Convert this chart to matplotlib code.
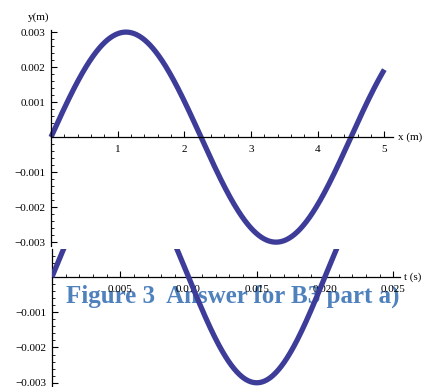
import numpy as np
import matplotlib
matplotlib.use('Agg')
import matplotlib.pyplot as plt
from matplotlib.ticker import MultipleLocator, FuncFormatter

# wave parameters
amplitude = 0.003      # m
wavelength = 4.5       # m
period = 0.020         # s

x_ticks = [1, 2, 3, 4, 5]
y_ticks = [-0.003, -0.002, -0.001, 0.001, 0.002, 0.003]
t_ticks = [0.005, 0.010, 0.015, 0.020, 0.025]
yb_ticks = [-0.003, -0.002, -0.001]

x = np.linspace(0, 5, 500)
y_x = amplitude * np.sin(2 * np.pi * x / wavelength)
t = np.linspace(0, 0.0255, 500)
y_t = amplitude * np.sin(2 * np.pi * t / period)

line_color = '#3d3d99'
caption_color = '#4f81bd'
plt.rcParams['font.family'] = ['Liberation Serif', 'DejaVu Serif']
plt.rcParams['font.size'] = 8


def minus(v, pos):
    if v == 0:
        return ''
    s = '%.3f' % abs(v)
    return ('\u2212' + s) if v < 0 else s


def style_axes(ax):
    for side in ['top', 'right']:
        ax.spines[side].set_visible(False)
    ax.spines['left'].set_position(('data', 0))
    ax.spines['bottom'].set_position(('data', 0))
    ax.spines['left'].set_linewidth(0.9)
    ax.spines['bottom'].set_linewidth(0.9)
    ax.tick_params(axis='both', which='major', direction='in', length=4, width=0.8)
    ax.tick_params(axis='x', which='major', pad=6)
    ax.tick_params(axis='y', which='major', pad=4)
    ax.tick_params(axis='both', which='minor', direction='in', length=2.2, width=0.6)
    ax.patch.set_alpha(0)


fig = plt.figure(figsize=(4.26, 3.87), dpi=100)

# top chart: y against x
ax1 = fig.add_axes([51 / 426, (387 - 246) / 387, 342 / 426, 216 / 387])
ax1.plot(x, y_x, color=line_color, lw=3.8, solid_capstyle='butt', clip_on=False)
ax1.set_xlim(0, 5.13)
ax1.set_ylim(-0.00311, 0.00306)
style_axes(ax1)
ax1.set_xticks(x_ticks)
ax1.xaxis.set_minor_locator(MultipleLocator(0.2))
ax1.set_yticks(y_ticks)
ax1.yaxis.set_minor_locator(MultipleLocator(0.0002))
ax1.yaxis.set_major_formatter(FuncFormatter(minus))
ax1.text(5.2, 0, 'x (m)', va='center', ha='left')
ax1.text(-0.02, 0.0033, 'y(m)', va='bottom', ha='right')

# bottom chart: y against t (top part cut off)
ax2 = fig.add_axes([52 / 426, 0, 348 / 426, 138 / 387])
ax2.plot(t, y_t, color=line_color, lw=3.8, solid_capstyle='butt', zorder=3)
ax2.set_xlim(0, 0.0255)
ax2.set_ylim(-0.00312, 0.00079)
style_axes(ax2)
ax2.set_xticks(t_ticks)
ax2.xaxis.set_minor_locator(MultipleLocator(0.001))
ax2.set_yticks(yb_ticks)
ax2.yaxis.set_minor_locator(MultipleLocator(0.0002))
ax2.yaxis.set_major_formatter(FuncFormatter(minus))
ax2.xaxis.set_major_formatter(FuncFormatter(lambda v, p: '%.3f' % v))
ax2.text(0.0258, 0, 't (s)', va='center', ha='left')

# caption pasted over the lower chart
ax2.text(66 / 426, (387 - 303) / 387, 'Figure 3  Answer for B3 part a)',
         transform=fig.transFigure, color=caption_color, fontsize=18,
         fontweight='bold', family=['Liberation Serif', 'DejaVu Serif'],
         ha='left', va='baseline', zorder=0)

fig.savefig('out.png', dpi=100)
